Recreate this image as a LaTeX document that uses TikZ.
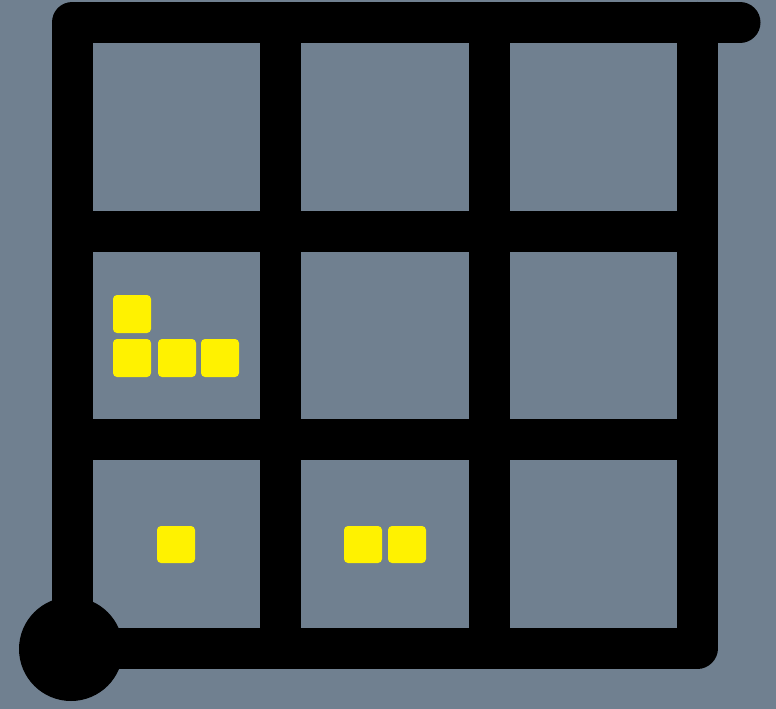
\documentclass[tikz,border=0pt]{standalone}
\definecolor{slate}{HTML}{708090}
\begin{document}
\begin{tikzpicture}[x=1pt,y=-1pt,
  wall/.style={line width=41pt, line cap=round, line join=round},
  bar/.style={line width=41pt},
  chip/.style={fill=yellow, rounded corners=4pt}]
\fill[slate] (0,0) rectangle (776,709);
\useasboundingbox (0,0) rectangle (776,709);
% inner grid lines
\draw[bar] (280.5,22.5) -- (280.5,648);
\draw[bar] (489,22.5) -- (489,648);
\draw[bar] (72,231) -- (697.5,231);
\draw[bar] (72,439.5) -- (697.5,439.5);
% outer frame
\draw[wall] (740,22.5) -- (72,22.5) -- (72,648) -- (697.5,648) -- (697.5,22.5);
\fill (71,649) circle (52pt);
% yellow chips
\fill[chip] (113,295) rectangle ++(38,38);
\fill[chip] (113,339) rectangle ++(38,38);
\fill[chip] (158,339) rectangle ++(38,38);
\fill[chip] (201,339) rectangle ++(38,38);
\fill[chip] (157,526) rectangle ++(38,37);
\fill[chip] (344,526) rectangle ++(38,37);
\fill[chip] (388,526) rectangle ++(38,37);
\end{tikzpicture}
\end{document}
